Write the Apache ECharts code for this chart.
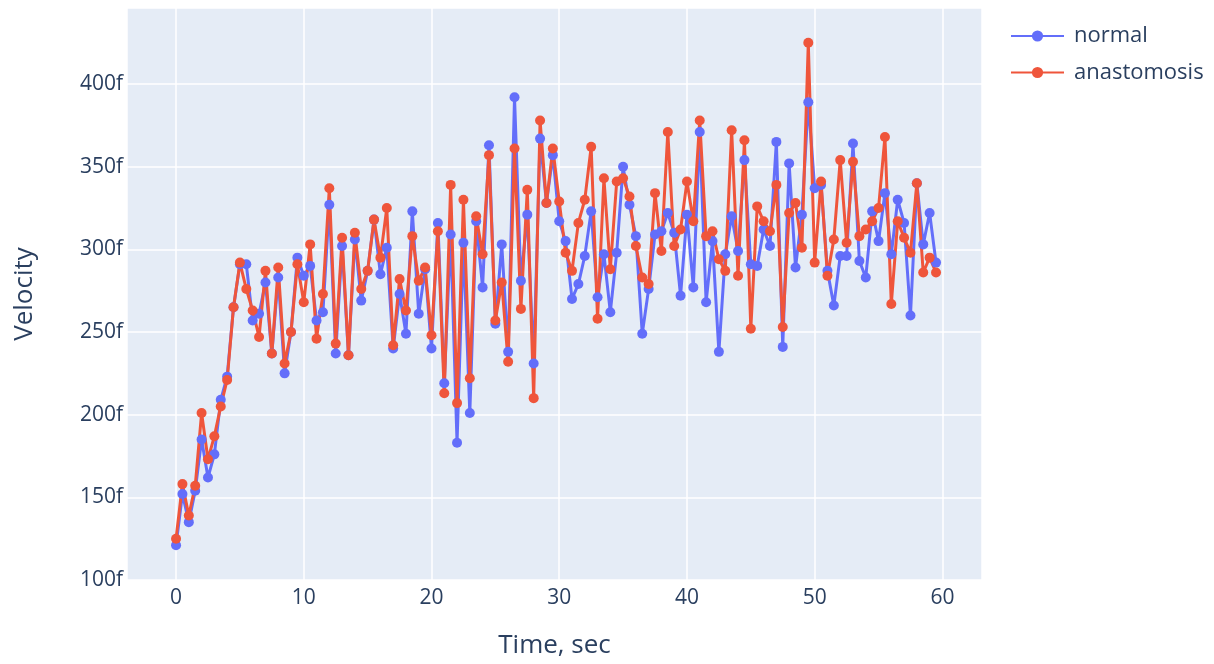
<!DOCTYPE html>
<html>
<head>
<meta charset="utf-8">
<script src="https://cdn.jsdelivr.net/npm/echarts@6/dist/echarts.min.js"></script>
<style>
	html, body { margin: 0; padding: 0; background: #fff; }
	#chart { width: 1214px; height: 664px; }
</style>
</head>
<body>
<div id="chart"></div>
<script>
	// time, sec
	var timeSec = [
		0, 0.5, 1, 1.5, 2, 2.5, 3, 3.5, 4, 4.5, 5, 5.5, 6, 6.5, 7, 7.5, 8, 8.5, 9, 9.5,
		10, 10.5, 11, 11.5, 12, 12.5, 13, 13.5, 14, 14.5, 15, 15.5, 16, 16.5, 17, 17.5, 18, 18.5, 19, 19.5,
		20, 20.5, 21, 21.5, 22, 22.5, 23, 23.5, 24, 24.5, 25, 25.5, 26, 26.5, 27, 27.5, 28, 28.5, 29, 29.5,
		30, 30.5, 31, 31.5, 32, 32.5, 33, 33.5, 34, 34.5, 35, 35.5, 36, 36.5, 37, 37.5, 38, 38.5, 39, 39.5,
		40, 40.5, 41, 41.5, 42, 42.5, 43, 43.5, 44, 44.5, 45, 45.5, 46, 46.5, 47, 47.5, 48, 48.5, 49, 49.5,
		50, 50.5, 51, 51.5, 52, 52.5, 53, 53.5, 54, 54.5, 55, 55.5, 56, 56.5, 57, 57.5, 58, 58.5, 59, 59.5
	];
	var normal = [
		121, 152, 135, 154, 185, 162, 176, 209, 223, 265, 291, 291, 257, 261, 280, 237, 283, 225, 250, 295,
		284, 290, 257, 262, 327, 237, 302, 236, 306, 269, 287, 318, 285, 301, 240, 273, 249, 323, 261, 288,
		240, 316, 219, 309, 183, 304, 201, 317, 277, 363, 255, 303, 238, 392, 281, 321, 231, 367, 328, 357,
		317, 305, 270, 279, 296, 323, 271, 297, 262, 298, 350, 327, 308, 249, 276, 309, 311, 322, 310, 272,
		321, 277, 371, 268, 305, 238, 297, 320, 299, 354, 291, 290, 312, 302, 365, 241, 352, 289, 321, 389,
		337, 339, 287, 266, 296, 296, 364, 293, 283, 323, 305, 334, 297, 330, 316, 260, 340, 303, 322, 292
	];
	var anastomosis = [
		125, 158, 139, 157, 201, 173, 187, 205, 221, 265, 292, 276, 263, 247, 287, 237, 289, 231, 250, 291,
		268, 303, 246, 273, 337, 243, 307, 236, 310, 276, 287, 318, 295, 325, 242, 282, 263, 308, 281, 289,
		248, 311, 213, 339, 207, 330, 222, 320, 297, 357, 257, 280, 232, 361, 264, 336, 210, 378, 328, 361,
		329, 298, 287, 316, 330, 362, 258, 343, 288, 341, 343, 332, 302, 283, 279, 334, 299, 371, 302, 312,
		341, 317, 378, 308, 311, 294, 287, 372, 284, 366, 252, 326, 317, 311, 339, 253, 322, 328, 301, 425,
		292, 341, 284, 306, 354, 304, 353, 308, 312, 317, 325, 368, 267, 317, 307, 298, 340, 286, 295, 286
	];

	function pairs(ys) {
		return ys.map(function (v, i) { return [timeSec[i], v]; });
	}

	var fontFam = '"Open Sans", "DejaVu Sans", sans-serif';
	var txtColor = '#2a3f5f';

	var myChart = echarts.init(document.getElementById('chart'));
	var option = {
		animation: false,
		backgroundColor: '#ffffff',
		textStyle: { fontFamily: fontFam },
		grid: {
			left: 127,
			right: 232,
			top: 8,
			bottom: 81,
			show: true,
			backgroundColor: '#e5ecf6',
			borderWidth: 0
		},
		legend: {
			orient: 'vertical',
			left: 1010,
			top: 25,
			padding: 0,
			itemWidth: 53,
			itemHeight: 14,
			itemGap: 14.5,
			textStyle: { color: txtColor, fontSize: 22, fontFamily: fontFam, padding: [0, 0, 0, 5] },
			data: ['normal', 'anastomosis']
		},
		xAxis: {
			type: 'value',
			min: -3.84,
			max: 63.1,
			splitNumber: 7,
			name: 'Time, sec',
			nameLocation: 'middle',
			nameGap: 53,
			nameTextStyle: { color: txtColor, fontSize: 26, fontFamily: fontFam },
			axisLine: { show: false },
			axisTick: { show: false },
			axisLabel: {
				color: txtColor,
				fontSize: 21,
				margin: 8,
				formatter: function (v) {
					return (Math.abs(v % 10) < 1e-6) ? String(v) : '';
				}
			},
			splitLine: { show: true, lineStyle: { color: '#ffffff', width: 1.5 } }
		},
		yAxis: {
			type: 'value',
			min: 100,
			max: 446,
			interval: 50,
			name: 'Velocity',
			nameLocation: 'middle',
			nameGap: 89,
			nameRotate: 90,
			nameTextStyle: { color: txtColor, fontSize: 26, fontFamily: fontFam },
			axisLine: { show: false },
			axisTick: { show: false },
			axisLabel: {
				color: txtColor,
				fontSize: 21,
				margin: 4,
				formatter: function (v) {
					return (Math.abs(v % 50) < 1e-6 && v <= 400) ? v + 'f' : '';
				}
			},
			splitLine: { show: true, lineStyle: { color: '#ffffff', width: 1.5 } }
		},
		series: [
			{
				name: 'normal',
				type: 'line',
				data: pairs(normal),
				symbol: 'circle',
				symbolSize: 10,
				showAllSymbol: true,
				itemStyle: { color: '#636efa' },
				lineStyle: { color: '#636efa', width: 3 }
			},
			{
				name: 'anastomosis',
				type: 'line',
				data: pairs(anastomosis),
				symbol: 'circle',
				symbolSize: 10,
				showAllSymbol: true,
				itemStyle: { color: '#ef553b' },
				lineStyle: { color: '#ef553b', width: 3 }
			}
		]
	};
	myChart.setOption(option);
</script>
</body>
</html>
